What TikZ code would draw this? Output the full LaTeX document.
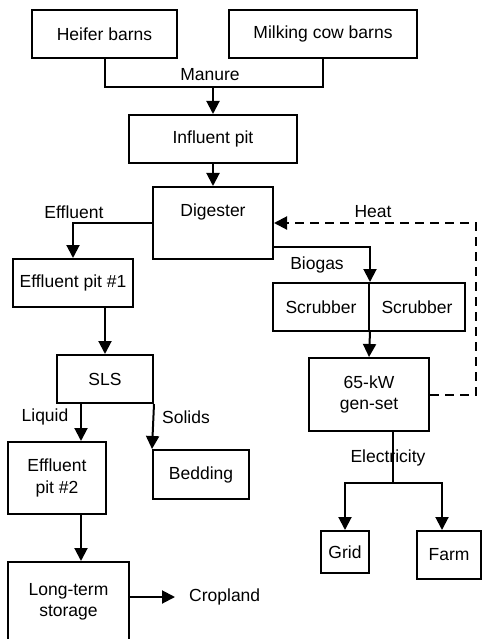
\documentclass[tikz,border=0pt]{standalone}
\usepackage{fontspec}
\setmainfont{Liberation Sans}
\usetikzlibrary{arrows.meta}
\begin{document}
\begin{tikzpicture}[x=1pt,y=-1pt,
  font=\fontsize{17.5}{21.5}\selectfont,
  box/.style={draw,line width=2pt,rectangle,inner sep=0pt,align=center},
  conn/.style={line width=2pt},
  arr/.style={conn,-{Triangle[width=13pt,length=13pt]}},
  lbl/.style={inner sep=1pt}]
\useasboundingbox (0,0) rectangle (482,639);
% boxes
\node[box,minimum width=145,minimum height=48] (heifer) at (104.5,34) {Heifer barns};
\node[box,minimum width=188,minimum height=48] (milking) at (323,34) {Milking cow barns};
\node[box,minimum width=168,minimum height=48] (influent) at (213,139) {Influent pit};
\node[box,minimum width=120,minimum height=72,label={[lbl,yshift=11pt]center:Digester}] (digester) at (213,223) {};
\node[box,minimum width=120,minimum height=48] (ep1) at (73,283) {Effluent pit \#1};
\node[box,minimum width=96,minimum height=48] (sls) at (105,379) {SLS};
\node[box,minimum width=98,minimum height=72] (ep2) at (57,478) {Effluent\\pit \#2};
\node[box,minimum width=96,minimum height=49] (bedding) at (201,474.5) {Bedding};
\node[box,minimum width=121,minimum height=80] (storage) at (68.5,602) {Long-term\\storage};
\node[box,minimum width=96,minimum height=48] (scrub1) at (321,307) {Scrubber};
\node[box,minimum width=96,minimum height=48] (scrub2) at (417,307) {Scrubber};
\node[box,minimum width=120,minimum height=73] (genset) at (369,394.5) {65-kW\\gen-set};
\node[box,minimum width=48,minimum height=42] (grid) at (345,552) {Grid};
\node[box,minimum width=64,minimum height=48] (farm) at (449,555) {Farm};
% labels
\node[lbl] (manure) at (210,75) {Manure};
\node[lbl] (efflbl) at (74,212) {Effluent};
\node[lbl] (heat) at (373,212) {Heat};
\node[lbl] (biogas) at (317,265) {Biogas};
\node[lbl] (liquid) at (45,417) {Liquid};
\node[lbl] (solids) at (186,417) {Solids};
\node[lbl] (elec) at (388,458) {Electricity};
\node[lbl,anchor=west] (cropland) at (188,597) {Cropland};
% connectors
\coordinate (m) at (213,87);
\draw[conn] (heifer.south) |- (m) -| (milking.south);
\draw[arr] (m) -- (influent.north);
\draw[arr] (influent.south) -- (digester.north);
\draw[arr] (digester.west) -| (ep1.north);
\draw[arr] (sls.north |- ep1.south) -- (sls.north);
\draw[arr] ([xshift=-24pt]sls.south) -- ([xshift=-24pt]sls.south |- ep2.north);
\draw[arr] (sls.south east) -- (bedding.north west);
\draw[arr] ([xshift=24pt]ep2.south) -- ([xshift=24pt]ep2.south |- storage.north);
\draw[arr] (storage.east |- cropland.west) -- ([xshift=-13pt]cropland.west);
\draw[arr] ([yshift=-24pt]digester.east) -| (scrub1.north east);
\draw[arr] (scrub1.south east) -- (genset.north);
\draw[arr,dashed,dash pattern=on 9pt off 6pt] (genset.east) -- ++(46,0) |- (digester.east);
\coordinate (e) at (393,483);
\draw[conn] ([xshift=24pt]genset.south) -- (e);
\draw[arr] (e) -| (grid.north);
\draw[arr] (e) -| ([xshift=-7pt]farm.north);
\end{tikzpicture}
\end{document}
